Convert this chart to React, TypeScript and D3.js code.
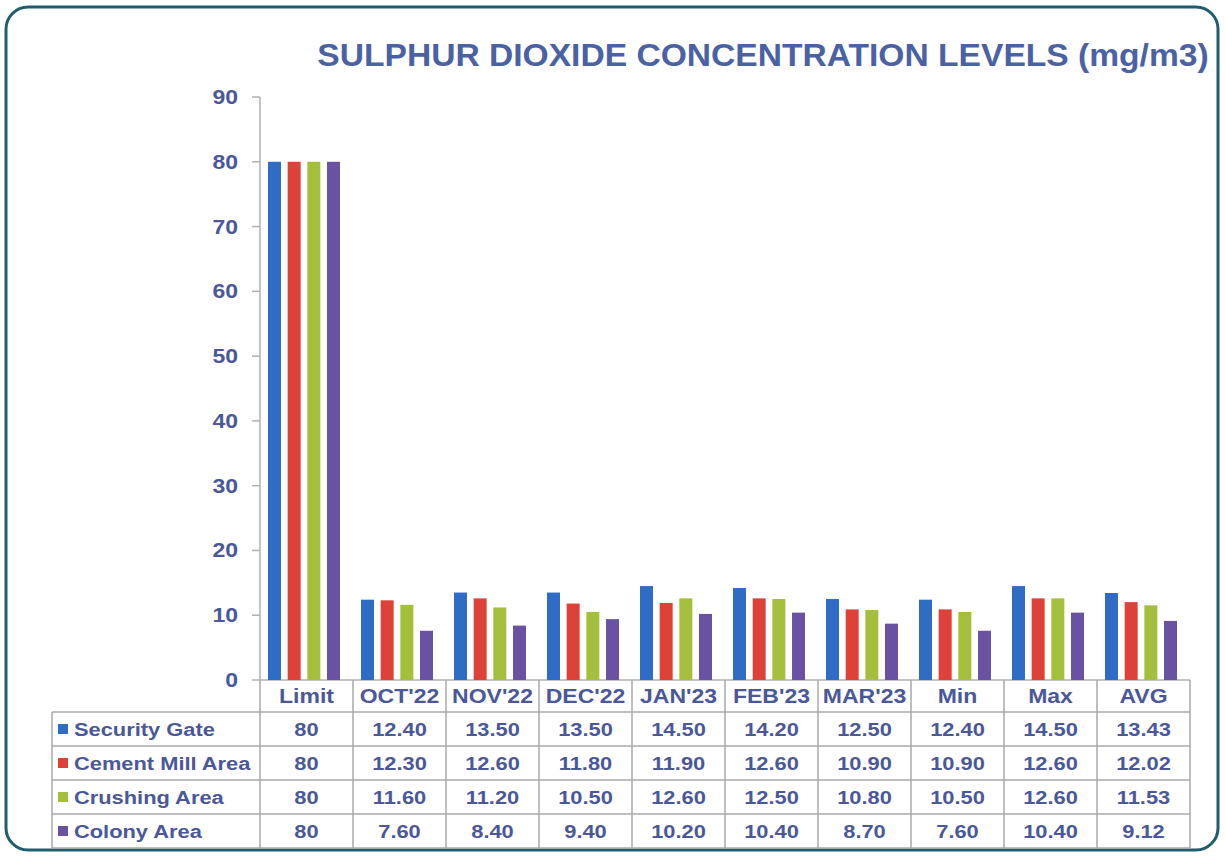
import React from "react";
import * as d3 from "d3";

const categories = ["Limit", "OCT'22", "NOV'22", "DEC'22", "JAN'23", "FEB'23", "MAR'23", "Min", "Max", "AVG"];
const seriesNames = ["Security Gate", "Cement Mill Area", "Crushing Area", "Colony Area"];
const securityGate = [80, 12.4, 13.5, 13.5, 14.5, 14.2, 12.5, 12.4, 14.5, 13.43];
const cementMill = [80, 12.3, 12.6, 11.8, 11.9, 12.6, 10.9, 10.9, 12.6, 12.02];
const crushing = [80, 11.6, 11.2, 10.5, 12.6, 12.5, 10.8, 10.5, 12.6, 11.53];
const colony = [80, 7.6, 8.4, 9.4, 10.2, 10.4, 8.7, 7.6, 10.4, 9.12];
const yTicks = [0, 10, 20, 30, 40, 50, 60, 70, 80, 90];
const colors = ["#2f6cc6", "#dd4138", "#a3bf3b", "#6a52a3"];
const title = "SULPHUR DIOXIDE CONCENTRATION LEVELS (mg/m3)";

const seriesValues = [securityGate, cementMill, crushing, colony];

const fmt = (v: number, ci: number) => (ci === 0 ? String(v) : v.toFixed(2));

function T(props: { x: number; y: number; sx?: number; anchor?: string; size: number; fill: string; children: React.ReactNode }) {
  const { x, y, sx = 1.15, anchor = "start", size, fill, children } = props;
  return (
    <text transform={`translate(${x},${y}) scale(${sx},1)`} textAnchor={anchor} fontSize={size} fontWeight="bold" fill={fill}>
      {children}
    </text>
  );
}

export default function App() {
  const W = 1226, H = 857;
  const left = 260, right = 1190, top = 97, bottom = 680;
  const x = d3.scaleBand<string>().domain(categories).range([left, right]).paddingInner(0).paddingOuter(0);
  const y = d3.scaleLinear().domain([0, 90]).range([bottom, top]);
  const x1 = d3.scaleBand<string>().domain(seriesNames).range([8, 80]).paddingInner(0.34).paddingOuter(0);
  const textColor = "#4a5899";
  const font = "'Liberation Sans', Arial, sans-serif";
  const tableLeft = 52;
  const rowLines = [680, 712, 746, 780, 814, 848];
  const gridColor = "#a8a8a8";

  return (
    <svg width={W} height={H} style={{ position: "absolute", left: 0, top: 0 }} fontFamily={font}>
      <rect x={0} y={0} width={W} height={H} fill="#ffffff" />
      <rect x={6} y={7} width={1212} height={843} rx={22} ry={22} fill="none" stroke="#215d6c" strokeWidth={3} />
      <T x={763} y={66} sx={1.05} anchor="middle" size={32} fill="#4a62a3">{title}</T>

      {/* y axis */}
      <line x1={left} x2={left} y1={top} y2={bottom} stroke="#b0b0b0" strokeWidth={1.5} />
      {yTicks.map((t) => (
        <g key={t}>
          <line x1={left - 8} x2={left} y1={y(t)} y2={y(t)} stroke="#b0b0b0" strokeWidth={1.5} />
          <T x={238} y={y(t) + 7} anchor="end" size={20} fill={textColor}>{t}</T>
        </g>
      ))}
      <line x1={left} x2={right} y1={bottom} y2={bottom} stroke="#b0b0b0" strokeWidth={1.5} />

      {/* bars */}
      {categories.map((c, ci) => (
        <g key={c} transform={`translate(${x(c)},0)`}>
          {seriesNames.map((s, si) => (
            <rect key={s} x={x1(s)} width={x1.bandwidth()} y={y(seriesValues[si][ci])}
              height={bottom - y(seriesValues[si][ci])} fill={colors[si]} />
          ))}
        </g>
      ))}

      {/* table */}
      {rowLines.slice(1).map((ry) => (
        <line key={ry} x1={tableLeft} x2={right} y1={ry} y2={ry} stroke={gridColor} strokeWidth={1.5} />
      ))}
      <line x1={tableLeft} x2={tableLeft} y1={712} y2={848} stroke={gridColor} strokeWidth={1.5} />
      {categories.map((c) => (
        <line key={c} x1={(x(c) as number) + x.bandwidth()} x2={(x(c) as number) + x.bandwidth()} y1={bottom} y2={848} stroke={gridColor} strokeWidth={1.5} />
      ))}
      <line x1={left} x2={left} y1={bottom} y2={848} stroke={gridColor} strokeWidth={1.5} />
      {categories.map((c) => (
        <T key={c} x={(x(c) as number) + x.bandwidth() / 2} y={703} anchor="middle" size={20} fill={textColor}>{c}</T>
      ))}
      {seriesNames.map((s, si) => {
        const cy = (rowLines[si + 1] + rowLines[si + 2]) / 2;
        return (
          <g key={s}>
            <rect x={58} y={cy - 5} width={10} height={10} fill={colors[si]} />
            <T x={74} y={cy + 7} size={19} fill={textColor}>{s}</T>
            {categories.map((c, ci) => (
              <T key={c} x={(x(c) as number) + x.bandwidth() / 2} y={cy + 7} anchor="middle" size={19} fill={textColor}>
                {fmt(seriesValues[si][ci], ci)}
              </T>
            ))}
          </g>
        );
      })}
    </svg>
  );
}
